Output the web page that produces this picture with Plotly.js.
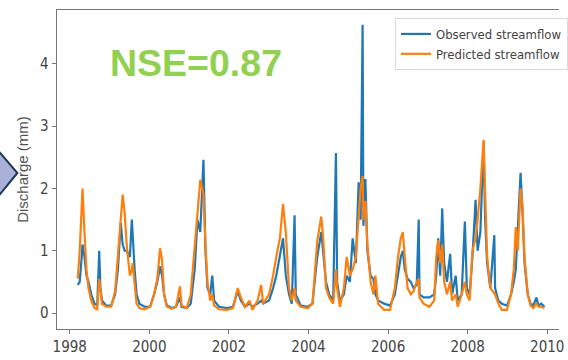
<!DOCTYPE html>
<html>
<head>
<meta charset="utf-8">
<script src="https://cdn.plot.ly/plotly-3.0.1.min.js"></script>
<style>html,body{margin:0;padding:0;background:#fff;}#chart{width:568px;height:360px;}</style>
</head>
<body>
<div id="chart"></div>
<script>
// Time in decimal years
const years = [
 1998.20,1998.25,1998.30,1998.32,1998.37,1998.42,1998.47,1998.54,1998.62,1998.69,1998.74,1998.77,1998.81,1998.91,
 1999.04,1999.14,1999.21,1999.28,1999.33,1999.38,1999.43,1999.51,1999.56,1999.58,1999.63,1999.68,1999.75,1999.88,
 2000.02,2000.12,2000.20,2000.27,2000.32,2000.37,2000.44,2000.57,2000.67,2000.77,2000.81,2000.94,
 2001.04,2001.14,2001.21,2001.28,2001.36,2001.41,2001.46,2001.53,2001.58,2001.63,2001.75,2001.95,
 2002.10,2002.22,2002.30,2002.40,2002.52,2002.59,2002.72,2002.81,2002.86,
 2003.01,2003.11,2003.19,2003.28,2003.36,2003.43,2003.51,2003.58,2003.65,2003.68,2003.80,2003.98,
 2004.10,2004.17,2004.22,2004.32,2004.37,2004.44,2004.52,2004.62,2004.69,2004.72,2004.79,2004.89,2004.96,
 2005.04,2005.11,2005.19,2005.26,2005.31,2005.36,2005.38,2005.43,2005.48,2005.56,2005.63,2005.68,2005.75,2005.90,
 2006.05,2006.17,2006.25,2006.32,2006.37,2006.42,2006.49,2006.57,2006.64,2006.72,2006.77,2006.79,2006.89,
 2007.04,2007.16,2007.21,2007.26,2007.31,2007.36,2007.41,2007.48,2007.56,2007.61,2007.70,2007.75,2007.85,2007.93,2007.98,
 2008.05,2008.12,2008.20,2008.25,2008.32,2008.40,2008.44,2008.49,2008.57,2008.67,2008.69,2008.77,2008.86,2008.99,
 2009.09,2009.16,2009.21,2009.26,2009.33,2009.38,2009.43,2009.51,2009.58,2009.65,2009.73,2009.78,2009.85,2009.93
];
const observed = [
 0.45,0.5,0.9,1.1,0.9,0.6,0.5,0.3,0.15,0.12,1.0,0.4,0.2,0.12,
 0.12,0.3,0.7,1.45,1.1,1.0,1.0,0.9,1.5,1.2,0.7,0.3,0.15,0.1,
 0.1,0.3,0.5,0.75,0.6,0.3,0.12,0.08,0.1,0.25,0.1,0.08,
 0.15,0.7,1.5,1.3,2.46,1.0,0.4,0.3,0.6,0.2,0.1,0.08,
 0.1,0.35,0.2,0.1,0.15,0.1,0.15,0.2,0.15,
 0.2,0.4,0.6,0.9,1.2,0.6,0.3,0.15,1.57,0.3,0.12,0.1,
 0.15,0.6,0.9,1.3,1.0,0.5,0.3,0.2,2.57,0.5,0.2,0.3,0.6,
 0.5,1.2,0.8,2.1,1.5,4.63,1.4,2.15,1.0,0.6,0.55,0.3,0.2,0.15,
 0.12,0.3,0.6,0.9,1.0,0.7,0.55,0.5,0.4,0.45,1.5,0.3,0.25,
 0.25,0.3,0.6,1.2,0.6,1.68,0.8,0.5,0.95,0.3,0.6,0.2,0.3,1.47,0.4,
 0.3,0.9,1.82,1.0,1.3,2.75,1.5,0.8,0.4,1.25,0.4,0.2,0.15,0.12,
 0.3,0.5,0.7,1.3,2.25,1.6,0.8,0.3,0.15,0.12,0.25,0.12,0.15,0.1
];
const predicted = [
 0.55,1.0,1.7,2.0,1.3,0.7,0.4,0.2,0.08,0.06,0.55,0.35,0.15,0.1,
 0.1,0.35,0.9,1.4,1.9,1.6,1.1,0.6,0.7,0.8,0.4,0.15,0.08,0.06,
 0.1,0.3,0.55,1.04,0.85,0.3,0.1,0.07,0.1,0.43,0.12,0.08,
 0.3,1.0,1.6,2.14,1.9,1.1,0.5,0.2,0.3,0.12,0.06,0.05,
 0.08,0.4,0.25,0.1,0.2,0.05,0.2,0.45,0.15,
 0.3,0.6,0.9,1.2,1.75,1.3,0.4,0.2,0.4,0.2,0.1,0.08,
 0.15,0.8,1.15,1.55,1.2,0.4,0.25,0.15,0.7,0.4,0.1,0.4,0.9,
 0.6,0.7,0.9,1.5,2.0,2.2,1.5,1.8,1.1,0.5,0.3,0.6,0.15,0.05,
 0.05,0.4,0.9,1.2,1.3,0.9,0.4,0.3,0.35,0.5,0.55,0.25,0.15,
 0.1,0.2,0.9,1.17,0.8,1.1,0.5,0.3,0.5,0.2,0.3,0.1,0.3,0.5,0.3,
 0.2,1.0,1.2,1.5,2.0,2.78,1.8,0.9,0.4,0.3,0.3,0.15,0.05,0.05,
 0.3,0.7,1.38,1.0,2.0,1.7,0.9,0.3,0.12,0.08,0.15,0.1,0.1,0.08
];
const seriesNames = ['Observed streamflow', 'Predicted streamflow'];
const xTickVals = [1998, 2000, 2002, 2004, 2006, 2008, 2010];
const xTickText = ['1998', '2000', '2002', '2004', '2006', '2008', '2010'];
const yTickVals = [0, 1, 2, 3, 4];
const yTickText = ['0', '1', '2', '3', '4'];

const narrow = '"Liberation Sans Narrow", "DejaVu Sans Condensed", "Arial Narrow", "Liberation Sans", sans-serif';

const traces = [
  {x: years, y: observed, name: seriesNames[0], type: 'scatter', mode: 'lines',
   line: {color: '#1f77b4', width: 2.2}},
  {x: years, y: predicted, name: seriesNames[1], type: 'scatter', mode: 'lines',
   line: {color: '#ff7f0e', width: 2.2}}
];

const layout = {
  width: 568, height: 360,
  margin: {l: 57, r: 0, t: 10, b: 31, pad: 0},
  paper_bgcolor: '#ffffff', plot_bgcolor: '#ffffff',
  showlegend: true,
  legend: {x: 0.6732, y: 0.975, xanchor: 'left', yanchor: 'top',
    bgcolor: 'rgba(255,255,255,0.9)', bordercolor: '#dcdcdc', borderwidth: 1,
    font: {family: narrow, size: 13, color: '#444'}, tracegroupgap: 0},
  xaxis: {range: [1997.679, 2010.296], tickvals: xTickVals, ticktext: xTickText,
    showgrid: false, zeroline: false, showline: true, linecolor: '#777', linewidth: 1.3,
    mirror: true, ticks: 'outside', ticklen: 4, tickcolor: '#777',
    tickfont: {family: narrow, size: 15, color: '#444'}},
  yaxis: {range: [-0.257, 4.867], tickvals: yTickVals, ticktext: yTickText,
    showgrid: false, zeroline: false, showline: true, linecolor: '#777', linewidth: 1.3,
    ticks: 'outside', ticklen: 4, tickcolor: '#777',
    tickfont: {family: narrow, size: 15, color: '#444'},
    title: {text: 'Discharge (mm)', standoff: 8,
      font: {family: '"Liberation Sans", sans-serif', size: 15, color: '#555'}}},
  annotations: [
    {xref: 'paper', yref: 'paper', x: 0.276, y: 0.834, xanchor: 'center', yanchor: 'middle',
     text: 'NSE=0.87', showarrow: false,
     font: {family: '"Liberation Sans", Arial, sans-serif', size: 37.5, weight: 'bold', color: '#92d050'}}
  ],
  shapes: [
    {type: 'path', xref: 'paper', yref: 'paper', layer: 'above',
     path: 'M -0.1155 0.5558 L -0.0789 0.489 L -0.1155 0.4188 Z',
     fillcolor: '#aab1d8', line: {color: '#1d3557', width: 2}}
  ]
};

Plotly.newPlot('chart', traces, layout, {staticPlot: true, displayModeBar: false});
</script>
</body>
</html>
